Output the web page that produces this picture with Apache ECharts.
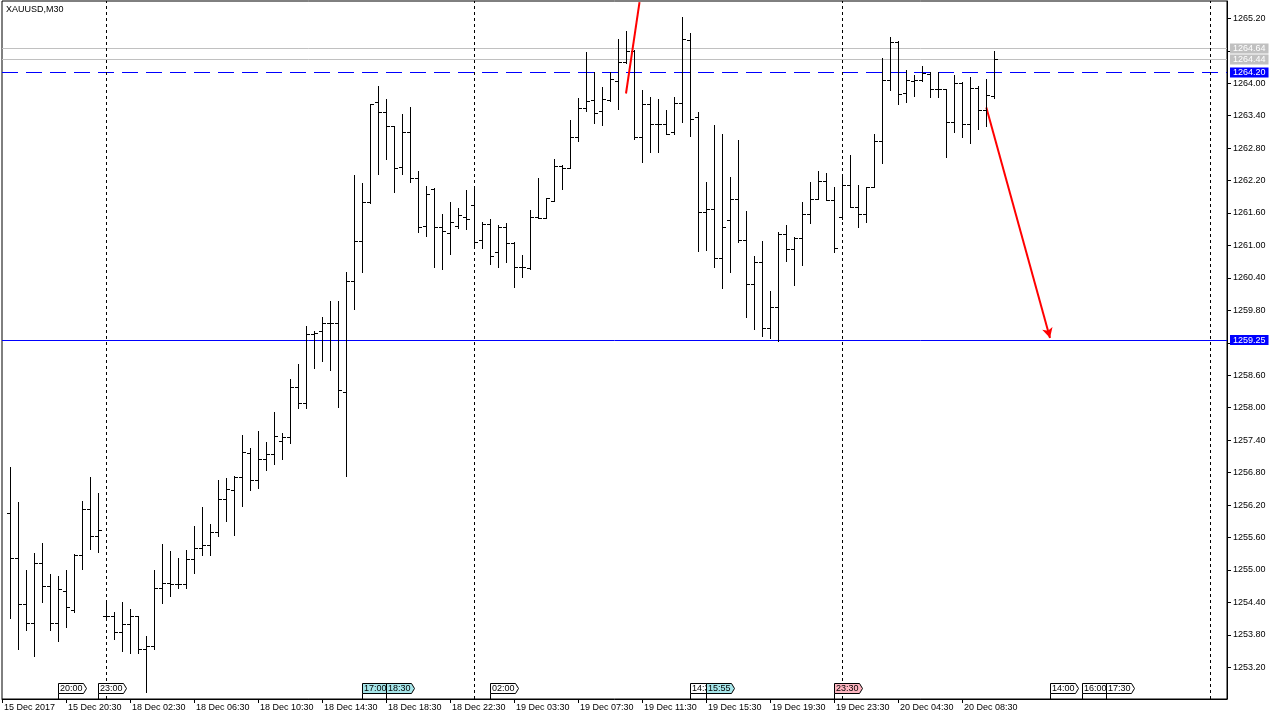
<!DOCTYPE html>
<html><head><meta charset="utf-8">
<script src="https://cdn.jsdelivr.net/npm/echarts@6/dist/echarts.min.js"></script>
<style>html,body{margin:0;padding:0;background:#fff}#c{width:1280px;height:720px}</style>
</head><body><div id="c"></div>
<script>
const FONT = 'Liberation Sans';
const symbolTitle = 'XAUUSD,M30';

// OHLC bars (M30), index 0 = 15 Dec 17:00
const opens = [1256.06,1255.23,1254.37,1254.01,1255.13,1254.70,1254.01,1254.61,1254.26,1255.28,1256.13,1255.63,1254.15,1254.15,1253.86,1254.00,1254.14,1253.53,1253.60,1254.66,1254.75,1254.74,1254.74,1255.20,1255.40,1255.47,1255.70,1256.31,1256.47,1256.72,1257.17,1256.66,1257.05,1257.15,1257.38,1257.45,1258.38,1258.08,1259.36,1259.41,1259.56,1259.56,1258.29,1260.34,1261.08,1261.80,1263.65,1263.46,1263.20,1262.45,1263.09,1262.24,1261.36,1262.05,1261.34,1261.23,1261.36,1261.52,1261.74,1261.10,1261.39,1260.87,1261.34,1261.04,1260.61,1260.58,1261.53,1261.51,1261.83,1262.46,1262.43,1263.00,1263.55,1263.69,1263.49,1263.69,1264.04,1264.40,1264.60,1263.00,1263.61,1263.24,1263.25,1263.09,1263.63,1264.80,1263.37,1261.62,1261.67,1260.76,1261.47,1261.85,1261.11,1260.29,1260.69,1259.47,1259.87,1261.21,1260.93,1261.14,1261.59,1261.86,1262.20,1261.84,1261.52,1262.11,1261.71,1261.58,1262.09,1262.93,1264.06,1264.77,1263.81,1264.05,1264.06,1264.17,1263.89,1263.89,1263.29,1264.00,1263.24,1263.91,1263.51,1263.77];
const highs = [1256.91,1256.26,1255.00,1255.31,1255.50,1254.93,1254.88,1255.00,1255.29,1256.28,1256.71,1256.42,1254.45,1254.23,1254.41,1254.28,1254.15,1253.78,1255.00,1255.48,1255.35,1255.23,1255.37,1255.81,1256.17,1255.85,1256.66,1256.70,1256.74,1257.50,1257.25,1257.57,1257.37,1257.92,1257.53,1258.53,1258.81,1259.51,1259.41,1259.67,1259.97,1259.97,1260.50,1262.30,1262.15,1263.62,1263.95,1263.71,1263.21,1263.43,1263.56,1262.38,1262.10,1262.06,1261.58,1261.80,1261.69,1262.03,1262.06,1261.43,1261.48,1261.37,1261.41,1261.06,1260.82,1261.66,1262.24,1261.88,1262.60,1262.49,1263.32,1263.72,1264.58,1264.20,1263.93,1264.20,1264.82,1264.97,1264.61,1263.87,1263.75,1263.70,1263.51,1263.74,1265.23,1264.93,1263.46,1262.17,1263.23,1263.06,1262.27,1262.95,1261.64,1260.81,1261.08,1260.16,1261.24,1261.38,1261.15,1261.80,1262.17,1262.38,1262.34,1262.08,1262.29,1262.67,1262.11,1262.09,1263.06,1264.46,1264.86,1264.78,1264.24,1264.15,1264.31,1264.20,1264.20,1263.89,1264.15,1264.03,1264.12,1263.95,1264.08,1264.60];
const lows = [1254.11,1253.54,1253.89,1253.40,1254.40,1253.89,1253.69,1253.95,1254.23,1255.01,1255.39,1255.34,1254.08,1253.72,1253.51,1253.46,1253.46,1252.74,1253.54,1254.38,1254.52,1254.66,1254.67,1254.94,1255.28,1255.28,1255.63,1255.91,1255.65,1256.18,1256.47,1256.52,1256.84,1256.95,1257.05,1257.35,1257.99,1258.00,1258.74,1258.87,1258.69,1258.02,1256.73,1259.82,1260.50,1261.78,1262.32,1262.60,1261.99,1262.32,1262.18,1261.24,1261.18,1260.61,1260.57,1260.85,1261.32,1261.30,1261.01,1260.96,1260.66,1260.60,1260.69,1260.24,1260.41,1260.57,1261.50,1261.50,1261.83,1262.04,1262.43,1262.94,1263.49,1263.27,1263.23,1263.68,1263.53,1264.37,1262.96,1262.55,1262.73,1262.73,1263.07,1263.07,1263.29,1263.02,1260.90,1260.92,1260.61,1260.22,1260.50,1261.07,1259.68,1259.46,1259.33,1259.28,1259.24,1260.72,1260.26,1260.63,1261.42,1261.85,1261.84,1260.87,1261.49,1261.71,1261.35,1261.44,1262.08,1262.53,1263.87,1263.62,1263.66,1263.77,1264.05,1263.75,1263.75,1262.64,1263.10,1263.00,1262.90,1263.15,1263.20,1263.73];
const closes = [1255.23,1254.37,1254.01,1255.13,1254.70,1254.01,1254.64,1254.32,1255.28,1256.13,1255.63,1255.73,1254.15,1253.86,1254.00,1254.14,1253.53,1253.60,1254.66,1254.75,1254.74,1254.74,1255.20,1255.40,1255.47,1255.70,1256.31,1256.49,1256.72,1257.19,1256.66,1257.05,1257.15,1257.48,1257.45,1258.38,1258.08,1259.36,1259.38,1259.56,1259.56,1258.33,1260.34,1261.08,1261.80,1263.62,1263.46,1263.20,1262.43,1263.09,1262.24,1261.35,1261.95,1261.34,1261.26,1261.43,1261.56,1261.48,1261.07,1261.39,1260.81,1261.34,1261.04,1260.61,1260.61,1261.53,1261.51,1261.87,1262.46,1262.43,1263.00,1263.55,1263.68,1263.44,1263.70,1264.07,1264.40,1264.60,1263.00,1263.61,1263.24,1263.25,1263.07,1263.63,1264.81,1263.34,1261.62,1261.67,1260.76,1261.34,1261.85,1261.11,1260.29,1260.69,1259.47,1259.87,1261.21,1260.93,1261.14,1261.59,1261.86,1262.20,1261.84,1260.95,1262.12,1261.71,1261.58,1262.09,1262.93,1264.06,1264.77,1263.80,1264.06,1264.06,1264.18,1263.89,1263.89,1263.29,1264.00,1263.24,1263.91,1263.51,1263.78,1264.44];

// price axis tick labels
const yTicks = [1253.20,1253.80,1254.40,1255.00,1255.60,1256.20,1256.80,1257.40,1258.00,1258.60,1259.20,1259.80,1260.40,1261.00,1261.60,1262.20,1262.80,1263.40,1264.00,1264.60,1265.20];
// time axis labels (bar index -> text)
const xTickIdx = [-1,7,15,23,31,39,47,55,63,71,79,87,95,103,111,119];
const xTickText = ['15 Dec 2017','15 Dec 20:30','18 Dec 02:30','18 Dec 06:30','18 Dec 10:30','18 Dec 14:30','18 Dec 18:30','18 Dec 22:30','19 Dec 03:30','19 Dec 07:30','19 Dec 11:30','19 Dec 15:30','19 Dec 19:30','19 Dec 23:30','20 Dec 04:30','20 Dec 08:30'];
// day separators (bar index)
const daySeparators = [12,58,104,150];
// calendar events
const eventIdx = [6,11,44,47,60,85,87,103,130,134,137];
const eventText = ['20:00','23:00','17:00','18:30','02:00','14:30','15:55','23:30','14:00','16:00','17:30'];
const eventKind = ['w','w','c','c','w','w','c','p','w','w','w'];
// price levels
const askPrice = 1264.64, bidPrice = 1264.44, dashLevel = 1264.20, solidLevel = 1259.25;
// trend lines [index, price]
const trend1 = [[77.0,1263.81],[78.69,1265.50]];
const arrowStart = [122.04,1263.55], arrowEnd = [130.0,1259.29];

const kindColor = {w:'#ffffff', c:'#a6e6ea', p:'#ffb6c1'};

const ohlcData = opens.map((o,i)=>[i,o,highs[i],lows[i],closes[i]]);
const labelMap = {};
xTickIdx.forEach((v,k)=>{labelMap[v]=xTickText[k];});

const chart = echarts.init(document.getElementById('c'), null, {renderer:'canvas'});
const st = {stroke:'#000', lineWidth:1};
const levelLabel = (bg)=>({show:true, position:'end', distance:3, formatter:p=>p.value.toFixed(2), backgroundColor:bg, color:'#fff', padding:[1,3,0,3], fontSize:9, fontFamily:FONT});
chart.setOption({
  animation:false,
  backgroundColor:'#ffffff',
  title:{text:symbolTitle, left:6, top:5, padding:0, textStyle:{fontSize:9, fontWeight:'normal', fontFamily:FONT, color:'#000'}},
  grid:{left:2, top:1, right:53, bottom:21, show:true, borderColor:'#000', borderWidth:1, backgroundColor:'#fff'},
  xAxis:{type:'value', min:-1, max:152.125,
    axisLine:{show:true, onZero:false, lineStyle:{color:'#000'}},
    axisTick:{show:true, length:4, customValues:xTickIdx, lineStyle:{color:'#000'}},
    axisLabel:{show:true, customValues:xTickIdx, formatter:v=>labelMap[v]||'', align:'left', margin:4, padding:[0,0,0,2], fontSize:9, fontFamily:FONT, color:'#000'},
    splitLine:{show:false}},
  yAxis:{type:'value', position:'right', min:1252.614, max:1265.52, scale:true,
    axisLine:{show:true, onZero:false, lineStyle:{color:'#000'}},
    axisTick:{show:true, length:4, customValues:yTicks, lineStyle:{color:'#000'}},
    axisLabel:{show:true, customValues:yTicks, formatter:v=>v.toFixed(2), margin:6, fontSize:9, fontFamily:FONT, color:'#000'},
    splitLine:{show:false}},
  series:[
    {type:'line', name:'levels', data:[], silent:true, z:1,
      markLine:{silent:true, symbol:'none', animation:false,
        data:[
          {yAxis:askPrice, lineStyle:{color:'#c0c0c0', type:'solid', width:1}, label:levelLabel('#c0c0c0')},
          {yAxis:bidPrice, lineStyle:{color:'#c0c0c0', type:'solid', width:1}, label:levelLabel('#c0c0c0')},
          {yAxis:dashLevel, lineStyle:{color:'#0000ff', type:[16,8], width:1}, label:levelLabel('#0000ff')},
          {yAxis:solidLevel, lineStyle:{color:'#0000ff', type:'solid', width:1}, label:levelLabel('#0000ff')}
        ].concat(daySeparators.map(v=>({xAxis:v, lineStyle:{color:'#000', type:[3,3], width:1}, label:{show:false}})))
      }},
    {type:'custom', name:'XAUUSD', data:ohlcData, encode:{x:0, y:[1,2,3,4]}, clip:true, z:5,
      renderItem(params, api){
        const i = api.value(0);
        const px = Math.round(api.coord([i, api.value(1)])[0]) + 0.5;
        const yo = Math.round(api.coord([i, api.value(1)])[1]) + 0.5;
        const yh = Math.round(api.coord([i, api.value(2)])[1]);
        const yl = Math.round(api.coord([i, api.value(3)])[1]) + 1;
        const yc = Math.round(api.coord([i, api.value(4)])[1]) + 0.5;
        return {type:'group', children:[
          {type:'line', shape:{x1:px,y1:yh,x2:px,y2:yl}, style:st},
          {type:'line', shape:{x1:px-3.5,y1:yo,x2:px,y2:yo}, style:st},
          {type:'line', shape:{x1:px,y1:yc,x2:px+3.5,y2:yc}, style:st}
        ]};
      }},
    {type:'custom', name:'events', data:eventIdx.map(v=>[v]), encode:{x:0}, clip:false, z:6,
      renderItem(params, api){
        const k = params.dataIndex;
        const x = Math.round(api.coord([api.value(0), 1260])[0]) + 0.5;
        const cs = params.coordSys;
        const bottom = cs.y + cs.height;
        const top = bottom - 15.5, bot = bottom - 5.5, mid = (top+bot)/2;
        return {type:'group', children:[
          {type:'polygon', shape:{points:[[x,top],[x+25,top],[x+28,mid],[x+25,bot],[x,bot]]}, style:{fill:kindColor[eventKind[k]], stroke:'#000', lineWidth:1}},
          {type:'line', shape:{x1:x,y1:bot,x2:x,y2:bottom}, style:st},
          {type:'text', style:{text:eventText[k], x:x+1.5, y:mid+0.5, verticalAlign:'middle', font:'9px '+FONT, fill:'#000'}}
        ]};
      }},
    {type:'line', name:'trend', data:trend1, symbol:'none', clip:true, silent:true, z:7,
      lineStyle:{color:'#ff0000', width:2},
      markLine:{silent:true, symbol:['none','arrow'], symbolSize:[8,10], label:{show:false},
        lineStyle:{color:'#ff0000', width:2, type:'solid'},
        data:[[{coord:arrowStart},{coord:arrowEnd}]]}}
  ]
});
</script></body></html>
